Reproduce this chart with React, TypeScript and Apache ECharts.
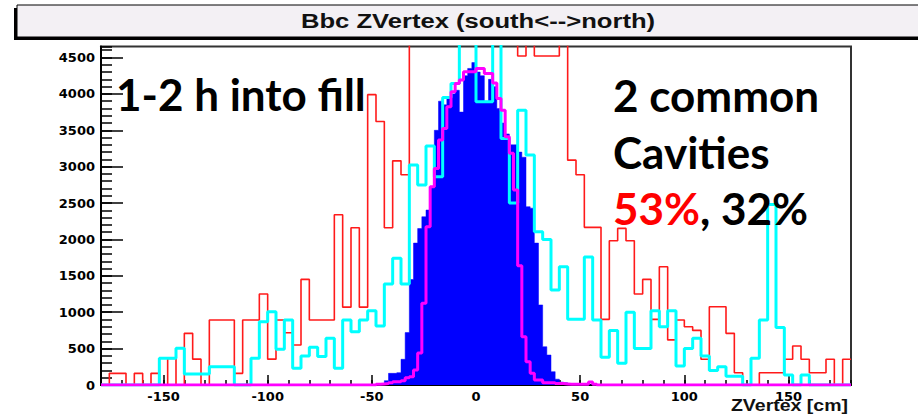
import React, { useEffect, useRef } from "react";
import * as echarts from "echarts";

// ---- axis ranges / ticks ----
const X_MIN = -180;
const X_MAX = 180;
const Y_MIN = 0;
const Y_MAX = 4650;
const xMajorTicks = [-150, -100, -50, 0, 50, 100, 150];
const yMajorTicks = [0, 500, 1000, 1500, 2000, 2500, 3000, 3500, 4000, 4500];

// ---- coarse histograms: 4 cm bins starting at -180 ----
const COARSE_START = -180;
const COARSE_WIDTH = 4;
// red (bins above the frame are clipped in the picture)
const redCounts = [
  0, 160, 160, 0, 160, 0, 160, 0, 366, 0,
  710, 355, 0, 893, 893, 893, 160, 893, 893, 1250,
  355, 893, 718, 549, 1451, 893, 893, 893, 2340, 1070,
  2161, 1070, 3990, 3620, 2161, 3080, 2890, 5200, 5200, 5200,
  5200, 5200, 5200, 5200, 5200, 5200, 5200, 5200, 5200, 5200,
  4520, 5200, 4520, 4520, 4520, 5200, 3090, 2890, 2166, 2166,
  902, 1982, 2152, 1982, 1250, 1451, 902, 1625, 620, 893,
  800, 750, 353, 1076, 1076, 710, 169, 0, 0, 169,
  169, 169, 353, 536, 353, 169, 169, 353, 0, 353,
];
// cyan
const cyanCounts = [
  0, 0, 0, 0, 0, 0, 0, 366, 366, 504,
  150, 150, 150, 252, 252, 252, 0, 0, 366, 870,
  1007, 490, 893, 229, 400, 520, 390, 641, 229, 893,
  730, 893, 1021, 810, 1387, 1740, 1387, 3022, 2747, 3283,
  2861, 3950, 4144, 5200, 5200, 3892, 3892, 5200, 3388, 2500,
  3777, 3159, 2106, 2001, 1305, 1625, 902, 902, 1760, 893,
  380, 750, 300, 1000, 500, 500, 1020, 800, 1020, 260,
  500, 641, 400, 200, 250, 120, 120, 0, 366, 893,
  2480, 790, 137, 0, 137, 0, 0, 0, 0, 0,
];

// ---- fine histograms: 2 cm bins starting at -48 ----
const FINE_START = -48;
const FINE_WIDTH = 2;
// blue filled
const blueCounts = [
  0, 20, 60, 160, 160, 170, 353, 720, 1450, 1950,
  2150, 2312, 2404, 2724, 3500, 3900, 3850, 3950, 4000, 4050,
  3750, 4250, 4350, 4430, 4300, 4250, 3900, 4200, 4100, 3800,
  3600, 3450, 3300, 3300, 3200, 3130, 2450, 2430, 1950, 1100,
  526, 412, 183, 80, 40, 30, 20, 20, 10, 20,
  0, 0, 0,
];
// magenta line
const magentaCounts = [
  10, 15, 20, 30, 46, 46, 60, 100, 114, 206,
  440, 1122, 2175, 2724, 2976, 3365, 3526, 3823, 4029, 4144,
  4190, 4304, 4304, 4304, 4350, 4350, 4281, 4281, 4150, 3938,
  3777, 3411, 3183, 2679, 1640, 664, 320, 160, 69, 69,
  32, 32, 32, 20, 20, 15, 10, 10, 10, 10,
  10, 40, 10, 0,
];

// ---- texts ----
const titleText = "Bbc ZVertex (south<-->north)";
const xTitleText = "ZVertex [cm]";
const noteLeft = "1-2 h into fill";
const noteRight1 = "2 common";
const noteRight2 = "Cavities";
const noteRed = "53%";
const noteBlack = ", 32%";

function stepPoints(start: number, width: number, counts: number[]) {
  const pts: number[][] = [];
  if (start > X_MIN) pts.push([X_MIN, 0]);
  counts.forEach((v, i) => pts.push([start + i * width, v]));
  const end = start + counts.length * width;
  pts.push([end, counts[counts.length - 1]]);
  if (end < X_MAX) {
    pts.push([end, 0]);
    pts.push([X_MAX, 0]);
  }
  return pts;
}

const labelFont = {
  fontFamily: "DejaVu Sans",
  fontWeight: "bold" as const,
  fontSize: 13,
  color: "#000",
};

export default function App() {
  const ref = useRef<HTMLDivElement>(null);
  useEffect(() => {
    if (!ref.current) return;
    const chart = echarts.init(ref.current, undefined, { renderer: "svg" });
    const bigFont = '"Lato", "Open Sans", sans-serif';
    const option: any = {
      animation: false,
      backgroundColor: "#ffffff",
      grid: {
        left: 101,
        right: 67,
        top: 46.6,
        bottom: 33,
        show: true,
        borderColor: "#333",
        borderWidth: 2,
        backgroundColor: "#ffffff",
      },
      xAxis: [
        {
          type: "value",
          min: X_MIN,
          max: X_MAX,
          interval: 10,
          position: "bottom",
          axisLine: { show: true, onZero: false, lineStyle: { color: "#000", width: 2 } },
          axisTick: { show: true, inside: true, length: 5, lineStyle: { color: "#000", width: 1.5 } },
          axisLabel: { show: false },
          splitLine: { show: false },
        },
        {
          type: "value",
          min: X_MIN,
          max: X_MAX,
          position: "bottom",
          axisLine: { show: false, onZero: false },
          axisTick: {
            show: true,
            inside: true,
            length: 10,
            customValues: xMajorTicks,
            lineStyle: { color: "#000", width: 1.5 },
          },
          axisLabel: {
            show: true,
            customValues: xMajorTicks,
            margin: 5,
            formatter: (v: number) => String(v),
            ...labelFont,
          },
          splitLine: { show: false },
        },
      ],
      yAxis: [
        {
          type: "value",
          min: Y_MIN,
          max: Y_MAX,
          interval: 100,
          position: "left",
          axisLine: { show: true, onZero: false, lineStyle: { color: "#000", width: 2 } },
          axisTick: { show: true, inside: true, length: 11, lineStyle: { color: "#000", width: 1.5 } },
          axisLabel: { show: false },
          splitLine: { show: false },
        },
        {
          type: "value",
          min: Y_MIN,
          max: Y_MAX,
          position: "left",
          axisLine: { show: false, onZero: false },
          axisTick: {
            show: true,
            inside: true,
            length: 22,
            customValues: yMajorTicks,
            lineStyle: { color: "#000", width: 1.5 },
          },
          axisLabel: {
            show: true,
            customValues: yMajorTicks,
            margin: 6,
            formatter: (v: number) => String(v),
            ...labelFont,
          },
          splitLine: { show: false },
        },
      ],
      series: [
        {
          name: "red",
          type: "line",
          step: "end",
          xAxisIndex: 0,
          yAxisIndex: 0,
          showSymbol: false,
          symbol: "none",
          clip: true,
          silent: true,
          lineStyle: { color: "#ff1a1a", width: 1.6 },
          data: stepPoints(COARSE_START, COARSE_WIDTH, redCounts),
          z: 2,
        },
        {
          name: "blue",
          type: "line",
          step: "end",
          xAxisIndex: 0,
          yAxisIndex: 0,
          showSymbol: false,
          symbol: "none",
          clip: true,
          silent: true,
          lineStyle: { color: "#0000ff", width: 0.5 },
          areaStyle: { color: "#0000ff", opacity: 1 },
          data: stepPoints(FINE_START, FINE_WIDTH, blueCounts),
          z: 3,
        },
        {
          name: "cyan",
          type: "line",
          step: "end",
          xAxisIndex: 0,
          yAxisIndex: 0,
          showSymbol: false,
          symbol: "none",
          clip: true,
          silent: true,
          lineStyle: { color: "#00ffff", width: 3 },
          data: stepPoints(COARSE_START, COARSE_WIDTH, cyanCounts),
          z: 4,
        },
        {
          name: "magenta",
          type: "line",
          step: "end",
          xAxisIndex: 0,
          yAxisIndex: 0,
          showSymbol: false,
          symbol: "none",
          clip: true,
          silent: true,
          lineStyle: { color: "#ff00ff", width: 3 },
          data: stepPoints(FINE_START, FINE_WIDTH, magentaCounts),
          z: 5,
        },
      ],
      graphic: [
        {
          type: "rect",
          z: 100,
          shape: { x: 14, y: 8, width: 920, height: 32 },
          style: { fill: "#000" },
        },
        {
          type: "rect",
          z: 101,
          shape: { x: 17, y: 5, width: 920, height: 32 },
          style: { fill: "#f3f0f4", stroke: "#000", lineWidth: 1 },
        },
        {
          type: "text",
          z: 102,
          x: 478,
          y: 21,
          scaleX: 1.22,
          style: {
            text: titleText,
            fontFamily: '"Liberation Sans", Arial, sans-serif',
            fontWeight: "bold",
            fontSize: 21,
            fill: "#111",
            align: "center",
            verticalAlign: "middle",
            textAlign: "center",
            textVerticalAlign: "middle",
          },
        },
        {
          type: "text",
          z: 102,
          x: 848,
          y: 406,
          scaleX: 1.22,
          style: {
            text: xTitleText,
            fontFamily: '"Liberation Sans", Arial, sans-serif',
            fontWeight: "bold",
            fontSize: 16,
            fill: "#111",
            align: "right",
            verticalAlign: "middle",
            textAlign: "right",
            textVerticalAlign: "middle",
          },
        },
        {
          type: "text",
          z: 102,
          x: 116,
          y: 94,
          style: {
            text: noteLeft,
            fontFamily: bigFont,
            fontWeight: "bold",
            fontSize: 44,
            fill: "#000",
            align: "left",
            verticalAlign: "middle",
            textAlign: "left",
            textVerticalAlign: "middle",
          },
        },
        {
          type: "text",
          z: 102,
          x: 613,
          y: 95,
          style: {
            text: noteRight1,
            fontFamily: bigFont,
            fontWeight: "bold",
            fontSize: 44,
            fill: "#000",
            align: "left",
            verticalAlign: "middle",
            textAlign: "left",
            textVerticalAlign: "middle",
          },
        },
        {
          type: "text",
          z: 102,
          x: 613,
          y: 152,
          style: {
            text: noteRight2,
            fontFamily: bigFont,
            fontWeight: "bold",
            fontSize: 44,
            fill: "#000",
            align: "left",
            verticalAlign: "middle",
            textAlign: "left",
            textVerticalAlign: "middle",
          },
        },
        {
          type: "text",
          z: 102,
          x: 613,
          y: 208,
          style: {
            text: "{r|" + noteRed + "}{k|" + noteBlack + "}",
            fontFamily: bigFont,
            fontWeight: "bold",
            fontSize: 44,
            fill: "#000",
            align: "left",
            verticalAlign: "middle",
            textAlign: "left",
            textVerticalAlign: "middle",
            rich: {
              r: { fill: "#ff0000", fontFamily: bigFont, fontWeight: "bold", fontSize: 44 },
              k: { fill: "#000000", fontFamily: bigFont, fontWeight: "bold", fontSize: 44 },
            },
          },
        },
      ],
    };
    chart.setOption(option);
    return () => chart.dispose();
  }, []);
  return (
    <div
      ref={ref}
      style={{ position: "fixed", left: 0, top: 0, width: 918, height: 418 }}
    />
  );
}
